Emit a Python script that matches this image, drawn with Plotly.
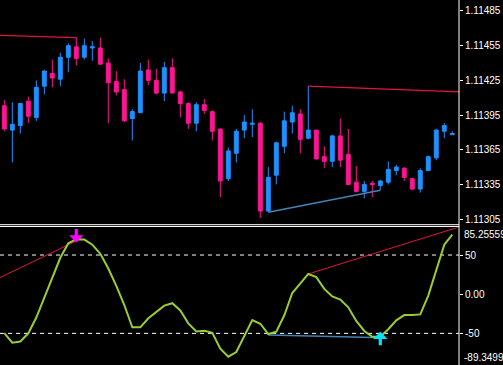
import plotly.graph_objects as go

W, H = 503, 365

# ---------------- data ----------------
bar_index = list(range(57))
open_ = [1.11403, 1.11382, 1.11386, 1.11407, 1.11393, 1.11420, 1.11431, 1.11426, 1.11445, 1.11454,
         1.11445, 1.11453, 1.11453, 1.11440, 1.11424, 1.11417, 1.11392, 1.11397, 1.11434, 1.11425,
         1.11414, 1.11436, 1.11415, 1.11405, 1.11388, 1.11404, 1.11398, 1.11383, 1.11340, 1.11362,
         1.11382, 1.11387, 1.11388, 1.11312, 1.11343, 1.11368, 1.11389, 1.11396, 1.11375, 1.11382,
         1.11359, 1.11355, 1.11377, 1.11361, 1.11337, 1.11329, 1.11336, 1.11334, 1.11337, 1.11347,
         1.11349, 1.11340, 1.11331, 1.11347, 1.11358, 1.11381, 1.11378]
high = [1.11408, 1.11406, 1.11405, 1.11411, 1.11425, 1.11434, 1.11443, 1.11449, 1.11457, 1.11462,
        1.11461, 1.11459, 1.11462, 1.11444, 1.11433, 1.11426, 1.11400, 1.11440, 1.11443, 1.11435,
        1.11441, 1.11444, 1.11416, 1.11406, 1.11406, 1.11409, 1.11399, 1.11383, 1.11367, 1.11383,
        1.11395, 1.11400, 1.11389, 1.11350, 1.11372, 1.11398, 1.11403, 1.11400, 1.11420, 1.11382,
        1.11368, 1.11378, 1.11392, 1.11383, 1.11351, 1.11338, 1.11338, 1.11339, 1.11355, 1.11352,
        1.11350, 1.11340, 1.11349, 1.11360, 1.11383, 1.11388, 1.11381]
low = [1.11381, 1.11354, 1.11379, 1.11388, 1.11390, 1.11413, 1.11419, 1.11420, 1.11432, 1.11438,
       1.11443, 1.11442, 1.11439, 1.11388, 1.11412, 1.11389, 1.11373, 1.11397, 1.11421, 1.11413,
       1.11407, 1.11414, 1.11393, 1.11383, 1.11381, 1.11396, 1.11373, 1.11324, 1.11338, 1.11354,
       1.11375, 1.11376, 1.11306, 1.11311, 1.11335, 1.11362, 1.11379, 1.11362, 1.11374, 1.11357,
       1.11349, 1.11350, 1.11350, 1.11335, 1.11328, 1.11323, 1.11324, 1.11330, 1.11335, 1.11343,
       1.11338, 1.11330, 1.11328, 1.11347, 1.11356, 1.11375, 1.11378]
close = [1.11383, 1.11387, 1.11405, 1.11394, 1.11419, 1.11433, 1.11427, 1.11445, 1.11455, 1.11444,
         1.11455, 1.11454, 1.11439, 1.11423, 1.11415, 1.11390, 1.11398, 1.11433, 1.11425, 1.11414,
         1.11436, 1.11414, 1.11405, 1.11388, 1.11404, 1.11399, 1.11381, 1.11338, 1.11364, 1.11381,
         1.11389, 1.11388, 1.11312, 1.11341, 1.11371, 1.11390, 1.11397, 1.11374, 1.11382, 1.11357,
         1.11355, 1.11377, 1.11356, 1.11335, 1.11329, 1.11335, 1.11335, 1.11338, 1.11348, 1.11350,
         1.11341, 1.11331, 1.11347, 1.11359, 1.11382, 1.11386, 1.11379]

oscillator = [-49.6, -61.9, -60.4, -49.9, -29.8, -4.3, 20.2, 46.5, 65.0, 70.2,
              69.7, 63.2, 51.6, 32.8, 10.7, -13.8, -42.3, -42.3, -30.8, -22.7,
              -14.6, -11.5, -20.8, -37.2, -47.6, -46.6, -49.2, -69.5, -79.8, -73.8,
              -54.0, -33.0, -37.7, -50.8, -47.8, -26.9, 1.5, 14.3, 25.8, 21.7,
              6.8, -2.8, -6.8, -16.7, -34.2, -46.9, -54.3, -54.3, -44.7, -33.3,
              -26.6, -26.6, -25.8, -1.7, 29.4, 63.2, 76.1]

# trend lines (price panel)
price_red1_x = [-0.6, 9]
price_red1_y = [1.11464, 1.11462]
price_red2_x = [38, 56.9]
price_red2_y = [1.11420, 1.11415]
price_blue_x = [33, 47]
price_blue_y = [1.11311, 1.11330]

# trend lines (oscillator panel)
osc_red1_x = [-0.6, 9]
osc_red1_y = [21.0, 68.0]
osc_red2_x = [38, 56.9]
osc_red2_y = [25.8, 86.0]
osc_blue_x = [33, 47.4]
osc_blue_y = [-52.0, -55.5]

price_ticks = [1.11305, 1.11335, 1.11365, 1.11395, 1.11425, 1.11455, 1.11485]
osc_ticks = [50, 0, -50]
osc_tick_text = ["50", "0.00", "-50"]
osc_max, osc_min = 85.255598, -89.34992
levels = [50, -50]

sell_arrow_bar, buy_arrow_bar = 9, 47
sell_arrow_tip, buy_arrow_tip = 66.0, -48.0

# ---------------- figure ----------------
XR = [-0.54, 56.84]
XD = [0, 459 / W]
main_dom = [1 - 224 / H, 1]
osc_dom = [1 - 364.2 / H, 1 - 227.4 / H]

BLUE = "#1e90ff"
PINK = "#ff1493"
RED = "#e0153f"
STEEL = "#4682b4"
LIME = "#9acd32"
FONT = dict(family="Liberation Sans, Arial, sans-serif", size=10, color="#ffffff")

fig = go.Figure()
fig.add_trace(go.Candlestick(
    x=bar_index, open=open_, high=high, low=low, close=close,
    increasing=dict(line=dict(color=BLUE, width=1), fillcolor=BLUE),
    decreasing=dict(line=dict(color=PINK, width=1), fillcolor=PINK),
    whiskerwidth=0, xaxis="x", yaxis="y", hoverinfo="skip", showlegend=False))

for xs, ys, col, wd in [(price_red1_x, price_red1_y, RED, 1.2),
                        (price_red2_x, price_red2_y, RED, 1.2),
                        (price_blue_x, price_blue_y, STEEL, 1.6)]:
    fig.add_trace(go.Scatter(x=xs, y=ys, mode="lines", line=dict(color=col, width=wd),
                             xaxis="x", yaxis="y", showlegend=False, hoverinfo="skip"))

for xs, ys, col, wd in [(osc_red1_x, osc_red1_y, RED, 1),
                        (osc_red2_x, osc_red2_y, RED, 1),
                        (osc_blue_x, osc_blue_y, STEEL, 1.4)]:
    fig.add_trace(go.Scatter(x=xs, y=ys, mode="lines", line=dict(color=col, width=wd),
                             xaxis="x2", yaxis="y2", showlegend=False, hoverinfo="skip"))

fig.add_trace(go.Scatter(x=bar_index, y=oscillator, mode="lines",
                         line=dict(color=LIME, width=2),
                         xaxis="x2", yaxis="y2", showlegend=False, hoverinfo="skip"))

shapes = []
for lv in levels:
    shapes.append(dict(type="line", xref="x2", yref="y2", x0=XR[0], x1=XR[1], y0=lv, y1=lv,
                       line=dict(color="#ffffff", width=1, dash="4px,4px"), layer="below"))
# panel separator (double line) and right border
for yy in [224.7, 226.5]:
    shapes.append(dict(type="line", xref="paper", yref="paper", x0=0, x1=XD[1],
                       y0=1 - yy / H, y1=1 - yy / H, line=dict(color="#ffffff", width=1)))
shapes.append(dict(type="line", xref="paper", yref="paper", x0=XD[1], x1=XD[1],
                   y0=0, y1=1, line=dict(color="#ffffff", width=1)))

annotations = [
    dict(x=sell_arrow_bar, y=sell_arrow_tip, xref="x2", yref="y2",
         ax=0, ay=-15, showarrow=True, arrowhead=1, arrowsize=0.75, arrowwidth=3.2,
         arrowcolor="#ff00ff", text=""),
    dict(x=buy_arrow_bar, y=buy_arrow_tip, xref="x2", yref="y2",
         ax=0, ay=15, showarrow=True, arrowhead=1, arrowsize=0.75, arrowwidth=3.2,
         arrowcolor="#00e5ff", text=""),
    dict(x=XD[1], y=1 - 234 / H, xref="paper", yref="paper", xanchor="left", yanchor="middle",
         xshift=3, text=f"{osc_max:.6f}", showarrow=False, font=FONT),
    dict(x=XD[1], y=1 - 357 / H, xref="paper", yref="paper", xanchor="left", yanchor="middle",
         xshift=3, text=f"{osc_min:.5f}", showarrow=False, font=FONT),
]

fig.update_layout(
    width=W, height=H, margin=dict(l=0, r=0, t=0, b=0, autoexpand=False),
    paper_bgcolor="#000000", plot_bgcolor="#000000",
    showlegend=False, shapes=shapes, annotations=annotations,
    xaxis=dict(domain=XD, range=XR, visible=False, rangeslider=dict(visible=False),
               anchor="y", fixedrange=True, automargin=False),
    xaxis2=dict(domain=XD, range=XR, visible=False, anchor="y2", matches="x", automargin=False),
    yaxis=dict(domain=main_dom, range=[1.113008, 1.114945], side="right", anchor="x",
               tickvals=price_ticks, ticktext=[f"{v:.5f}" for v in price_ticks],
               showgrid=False, zeroline=False, showline=False, automargin=False,
               ticks="outside", ticklen=3, tickcolor="#ffffff", tickfont=FONT),
    yaxis2=dict(domain=osc_dom, range=[osc_min, osc_max], side="right", anchor="x2",
                tickvals=osc_ticks, ticktext=osc_tick_text, automargin=False,
                showgrid=False, zeroline=False, showline=False,
                ticks="outside", ticklen=3, tickcolor="#ffffff", tickfont=FONT),
)

fig.write_html("out.html", config={"displayModeBar": False},
               post_script="document.body.style.margin='0';document.body.style.background='#000';")
